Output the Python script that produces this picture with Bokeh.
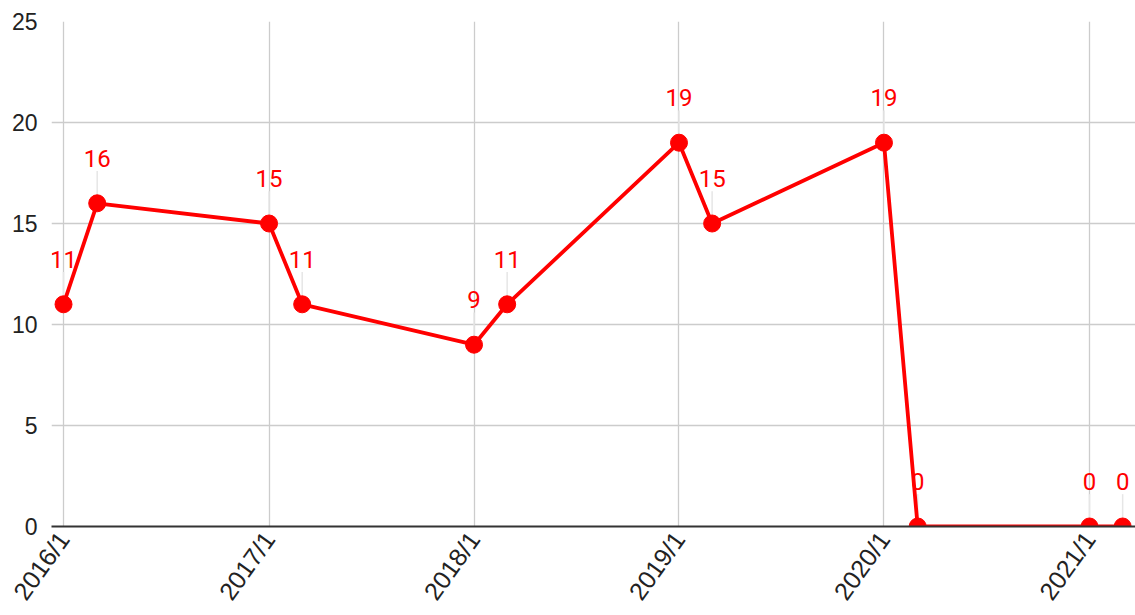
import pandas as pd
from bokeh.plotting import figure
from bokeh.models import ColumnDataSource, FixedTicker, Range1d
from bokeh.core.properties import value
from bokeh.embed import file_html
from bokeh.resources import INLINE

dates = ["2016-01-01", "2016-03-01", "2017-01-01", "2017-03-01", "2018-01-01", "2018-03-01",
         "2019-01-01", "2019-03-01", "2020-01-01", "2020-03-01", "2021-01-01", "2021-03-01"]
values = [11, 16, 15, 11, 9, 11, 19, 15, 19, 0, 0, 0]
tick_dates = ["2016-01-01", "2017-01-01", "2018-01-01", "2019-01-01", "2020-01-01", "2021-01-01"]
tick_labels = ["2016/1", "2017/1", "2018/1", "2019/1", "2020/1", "2021/1"]
y_ticks = [0, 5, 10, 15, 20, 25]

origin = pd.Timestamp("2016-01-01")
xs = [(pd.Timestamp(d) - origin).days for d in dates]
tx = [(pd.Timestamp(d) - origin).days for d in tick_dates]

src = ColumnDataSource(dict(x=xs, y=values, lab=[str(v) for v in values],
                            y1=[v + 1.6 for v in values], y0=[v + 0.4 for v in values]))

p = figure(width=1135, height=615, output_backend="svg", toolbar_location=None,
           x_range=Range1d(-21.4, 1908.9), y_range=Range1d(0, 25),
           min_border_left=51, min_border_right=0, min_border_top=21, min_border_bottom=88)
p.outline_line_color = None

p.segment("x", "y0", "x", "y1", source=src, line_color="#e6e6e6", line_width=1.5)
p.line("x", "y", source=src, line_color="#ff0000", line_width=3.8)
p.scatter("x", "y", source=src, size=17, fill_color="#ff0000", line_color="#ff0000")
p.text("x", "y", text="lab", source=src, text_color="#ff0000", text_font=value("Roboto"),
       text_font_size="24px", text_align="center", text_baseline="middle", y_offset=-45)

p.xaxis.ticker = FixedTicker(ticks=tx)
p.xaxis.major_label_overrides = {t: l for t, l in zip(tx, tick_labels)}
p.xaxis.major_label_orientation = 0.95
p.xaxis.major_tick_line_color = None
p.xaxis.minor_tick_line_color = None
p.xaxis.major_tick_out = 0
p.xaxis.major_tick_in = 0
p.xaxis.axis_label_standoff = 0
p.xaxis.axis_line_color = "#333333"
p.xaxis.axis_line_width = 2
p.xaxis.major_label_text_font = "Liberation Sans"
p.xaxis.major_label_text_font_size = "25px"
p.xaxis.major_label_text_color = "#222222"
p.xaxis.major_label_standoff = 8

p.yaxis.ticker = FixedTicker(ticks=y_ticks)
p.yaxis.major_tick_line_color = None
p.yaxis.minor_tick_line_color = None
p.yaxis.major_tick_out = 0
p.yaxis.major_tick_in = 0
p.yaxis.axis_label_standoff = 0
p.yaxis.axis_line_color = None
p.yaxis.major_label_text_font = "Liberation Sans"
p.yaxis.major_label_text_font_size = "23px"
p.yaxis.major_label_text_color = "#222222"
p.yaxis.major_label_standoff = 14

p.xgrid.grid_line_color = "#cccccc"
p.ygrid.grid_line_color = "#cccccc"
p.xgrid.grid_line_width = 1.3
p.ygrid.grid_line_width = 1.3

open("out.html", "w").write(file_html(p, INLINE))
